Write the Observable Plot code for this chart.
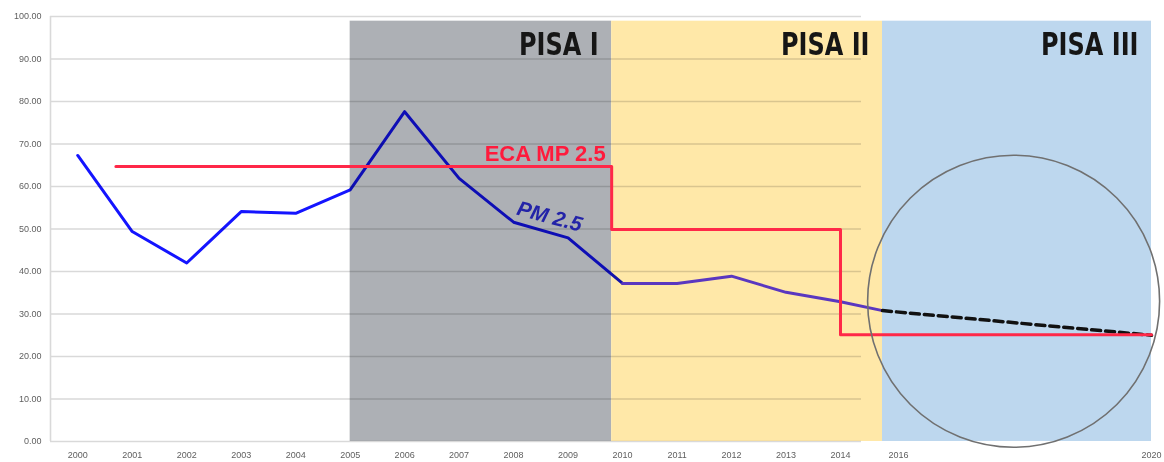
<!DOCTYPE html>
<html>
<head>
<meta charset="utf-8">
<script src="https://cdn.jsdelivr.net/npm/d3@7"></script>
<script src="https://cdn.jsdelivr.net/npm/@observablehq/plot@0.6"></script>
<style>
  html, body { margin: 0; padding: 0; background: #fff; }
  #chart svg { display: block; }
</style>
</head>
<body>
<div id="chart"></div>
<script>
// ---- data ----
const pmYears  = [2000, 2001, 2002, 2003, 2004, 2005, 2006, 2007, 2008, 2009, 2010, 2011, 2012, 2013, 2014, 2015];
const pmValues = [67.3, 49.4, 42.0, 54.1, 53.7, 59.2, 77.6, 61.9, 51.6, 47.9, 37.2, 37.2, 38.9, 35.1, 32.9, 30.8];

const projYears  = [2015, 2020];
const projValues = [30.8, 25.0];

const ecaYears  = [2000.7, 2009.8, 2014, 2020];
const ecaValues = [64.7, 49.9, 25.1, 25.1];

const regionNames = ["PISA I", "PISA II", "PISA III"];
const regionStart = [2005, 2009.8, 2015];
const regionEnd   = [2009.8, 2015, 2020];

const xTicks = [2000, 2001, 2002, 2003, 2004, 2005, 2006, 2007, 2008, 2009, 2010, 2011, 2012, 2013, 2014, 2016, 2020];
const yTicks = [0, 10, 20, 30, 40, 50, 60, 70, 80, 90, 100];

// ---- tables ----
const pm = pmYears.map((x, i) => ({x, y: pmValues[i]}));
const pmA = pm.filter(d => d.x <= 2010);
const pmB = pm.filter(d => d.x >= 2010);
const proj = projYears.map((x, i) => ({x, y: projValues[i]}));
const eca = ecaYears.map((x, i) => ({x, y: ecaValues[i]}));
const regions = regionNames.map((name, i) => ({name, x1: regionStart[i], x2: regionEnd[i]}));

// the original time axis is uneven after 2014: warp years before the linear x scale
const warp = d3.scaleLinear().domain([1999.5, 2014, 2015, 2016, 2020]).range([0, 790, 832, 848, 1101]);

const font = "'Liberation Sans', Arial, sans-serif";

const chart = Plot.plot({
  width: 1164,
  height: 462,
  marginTop: 16,
  marginBottom: 21,
  marginLeft: 50,
  marginRight: 0,
  style: {background: "#fff", fontFamily: font},
  x: {transform: warp, domain: [0, 1101], range: [50, 1151], axis: null},
  y: {domain: [0, 100], range: [441, 16]},
  color: {domain: regionNames, range: ["#adb0b5", "#ffe8a8", "#bdd7ee"]},
  marks: [
    Plot.rect(regions, {x1: "x1", x2: "x2", y1: 0, y2: 98.9, fill: "name"}),
    Plot.ruleY(yTicks, {x1: 1999.5, x2: 2014.5, stroke: "#d9d9d9", strokeWidth: 1.6, mixBlendMode: "multiply"}),
    Plot.ruleX([1999.5], {y1: 0, y2: 100, stroke: "#d9d9d9", strokeWidth: 1.6}),
    Plot.line(pmA, {x: "x", y: "y", stroke: "#1414ff", strokeWidth: 3, mixBlendMode: "multiply"}),
    Plot.line(pmB, {x: "x", y: "y", stroke: "#5a37c0", strokeWidth: 3}),
    Plot.line(proj, {x: "x", y: "y", stroke: "#111", strokeWidth: 3.5, strokeDasharray: "9,5"}),
    Plot.line(eca, {x: "x", y: "y", curve: "step-after", stroke: "#ff2848", strokeWidth: 3}),
    Plot.dot([{x: 2017.82, y: 33.0}], {x: "x", y: "y", r: 146, fill: "none", stroke: "#707070", strokeWidth: 1.6}),
    Plot.text(regions, {x: "x2", y: 93.3, text: "name", textAnchor: "end", dx: -13, fontSize: 32, fontWeight: "bold",
      fill: "#161616", fontFamily: "'DejaVu Sans', sans-serif"}),
    Plot.text(["ECA MP 2.5"], {x: 2009.8, y: 67.6, text: d => d, textAnchor: "end", dx: -6, fontSize: 22, fontWeight: "bold", fill: "#ff1a3c"}),
    Plot.text(["PM 2.5"], {x: 2008.66, y: 52.9, text: d => d, rotate: 15, fontSize: 21, fontWeight: "bold", fontStyle: "italic", fill: "#2323a8"}),
    Plot.axisY({ticks: yTicks, tickFormat: d3.format(".2f"), tickSize: 0, tickPadding: 9, label: null, fontSize: 9, color: "#5f5f5f"}),
    Plot.text(xTicks, {x: d => d, y: 0, text: d => String(d), dy: 14, fontSize: 9, fill: "#5f5f5f"})
  ]
});
document.getElementById("chart").appendChild(chart);

// condense the PISA labels to the narrow face of the original
d3.select(chart).selectAll("g[font-size='32'] text").each(function () {
  const w = this.getComputedTextLength();
  this.setAttribute("textLength", (w * 0.75).toFixed(1));
  this.setAttribute("lengthAdjust", "spacingAndGlyphs");
});
</script>
</body>
</html>
